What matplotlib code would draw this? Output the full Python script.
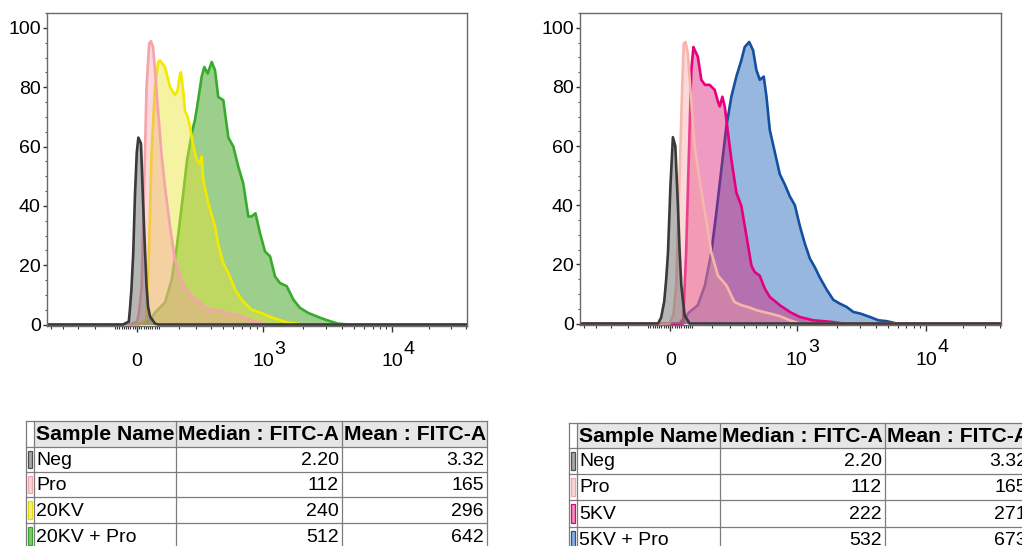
import numpy as np
import matplotlib
matplotlib.use('Agg')
import matplotlib.pyplot as plt
import matplotlib.ticker as ticker
from matplotlib.patches import Rectangle

plt.rcParams['font.family'] = 'Liberation Sans'

# ---- histogram data: FITC-A intensity vs % of max ----
neg_l_x = [-63, -37, -32, -25, -17, -9, -1, 6, 18, 28, 36, 43, 50, 59, 82, 96]
neg_l_y = [0, 1, 5, 12, 24, 44, 58, 63, 61, 40, 25, 13, 6, 2.7, 0.3, 0]

pro_l_x = [-32, 0, 9, 21, 36, 43, 55, 63, 73, 82, 97, 112, 129, 154, 179, 217, 250, 292,
           324, 358, 394, 474, 566, 674, 800, 917, 1088]
pro_l_y = [0, 1, 4, 12.8, 57.8, 80, 94.7, 95.5, 93.5, 85.7, 71.4, 57.8, 46.4, 33, 21.8, 14.1,
           11, 8.5, 7.5, 5.5, 5, 4.6, 3.6, 3, 1.6, 0.7, 0]

kv20_x = [14, 42, 54, 66, 82, 97, 105, 129, 154, 179, 193, 206, 211, 224, 233, 248, 262, 282,
          304, 324, 335, 346, 381, 433, 459, 503, 550, 618, 693, 820, 973, 1093, 1299, 1545, 2000]
kv20_y = [0, 1.7, 24, 58, 80, 88.5, 89, 86.8, 80, 77.3, 79, 84.6, 85, 78, 72, 70, 66.7, 60,
          55.5, 54.3, 56.6, 48.7, 41, 33, 27, 20.5, 17.4, 11.8, 8.4, 5, 3.9, 2.8, 1.7, 0.6, 0]

kv20p_x = [4, 59, 82, 129, 162, 188, 217, 245, 276, 292, 309, 335, 353, 377, 407, 433, 459,
           503, 550, 600, 654, 712, 777, 821, 878, 949, 1034, 1127, 1227, 1337, 1503, 1686,
           1894, 2190, 2620, 3130, 3720, 4520]
kv20p_y = [0, 1.5, 4, 7.4, 15, 26, 41, 55.5, 65.5, 69, 74.6, 83.5, 86.8, 84.6, 88.5, 85.7,
           76.7, 75.6, 63, 60, 53.2, 47.6, 36.4, 36.4, 37.5, 30.8, 24.6, 23, 16.2, 14, 12.9,
           8.4, 5.6, 3.9, 2.5, 1.3, 0.3, 0]

neg_r_x = [-55, -41, -27, -18, -10, 1, 12, 23, 34, 42, 50, 65, 88]
neg_r_y = [0, 2, 7.4, 15, 24, 46.5, 63, 60, 41, 25, 12.9, 2.8, 0]

pro_r_x = [-3, 14, 27, 41, 54, 61, 69, 80, 93, 112, 140, 168, 195, 231, 280, 331, 379, 417,
           457, 500, 632, 751, 891, 1057]
pro_r_y = [0, 3, 12.9, 46.5, 80, 94.7, 95.2, 91.3, 78, 60, 46.5, 35.3, 24, 16.2, 12.9, 7.3,
           6.2, 5.7, 5.2, 4.5, 3.4, 2.5, 1.1, 0]

kv5_x = [58, 72, 85, 96, 106, 116, 127, 144, 162, 186, 213, 231, 241, 256, 270, 290, 311, 344,
         379, 417, 457, 485, 530, 580, 632, 751, 891, 1057, 1330, 1776, 2246]
kv5_y = [0, 24, 57.7, 85.7, 93.5, 91.9, 90.2, 82.4, 80.7, 80.7, 79, 75, 73.4, 76.7, 73.4, 64.4,
         55.5, 44.3, 39.8, 29.7, 19.6, 17.4, 16.2, 11.8, 9, 6.2, 3.9, 2.2, 1.1, 0.6, 0]

kv5p_x = [42, 88, 127, 162, 195, 222, 250, 280, 311, 344, 379, 404, 439, 471, 500, 531, 569,
          597, 632, 709, 751, 818, 891, 971, 1057, 1152, 1255, 1368, 1492, 1676, 1884, 2117,
          2383, 2682, 3019, 3613, 4200, 4870, 5860]
kv5p_y = [0, 3.9, 6.2, 12.9, 24, 37.5, 52, 66.7, 76.7, 83.5, 89, 93.5, 95.2, 92.4, 85.7, 82.4,
          83.5, 76.7, 65.5, 55.5, 50.5, 47, 43, 40, 33, 27, 22, 19, 15.5, 11.5, 8, 6.7, 5.6,
          3.9, 3.4, 2.2, 1.1, 0.8, 0]

# ---- table data ----
left_names = ['Neg', 'Pro', '20KV', '20KV + Pro']
left_median = ['2.20', '112', '240', '512']
left_mean = ['3.32', '165', '296', '642']
right_names = ['Neg', 'Pro', '5KV', '5KV + Pro']
right_median = ['2.20', '112', '222', '532']
right_mean = ['3.32', '165', '271', '673']
headers = ['Sample Name', 'Median : FITC-A', 'Mean : FITC-A']

# ---- logicle-like display transform ----
K, P = 79.5, 2.0


def logicle_inv(z):
    z = np.asarray(z, dtype=float)
    a = np.abs(z)
    return np.sign(z) * K * (10 ** a - P ** 2 * 10 ** (-a / P) + P ** 2 - 1)


Z_GRID = np.linspace(-4, 4, 16001)
S_GRID = logicle_inv(Z_GRID)


def logicle(x):
    return np.interp(np.asarray(x, dtype=float), S_GRID, Z_GRID)


XMIN, XMAX = -537, 40500


def draw_hist(ax, x, y, line, fill, alpha, z):
    xs = np.concatenate([[XMIN], x, [XMAX]])
    ys = np.concatenate([[0], y, [0]])
    ax.fill_between(xs, 0, ys, color=fill, alpha=alpha, lw=0, zorder=z)
    ax.plot(xs, ys, color=line, lw=1.9, zorder=z + 0.5, solid_joinstyle='round')


def style_axes(ax):
    ax.set_xscale('function', functions=(logicle, logicle_inv))
    ax.set_xlim(XMIN, XMAX)
    ax.set_ylim(-0.5, 105)
    ax.set_xticks([0, 1000, 10000], ['0', '10', '10'])
    minors = ([-v for v in range(100, 501, 100)] + [-v for v in range(10, 91, 10)] +
              list(range(10, 91, 10)) + list(range(100, 901, 100)) +
              list(range(2000, 9001, 1000)) + list(range(20000, 40001, 10000)))
    ax.xaxis.set_minor_locator(ticker.FixedLocator(minors))
    ax.xaxis.set_minor_formatter(ticker.NullFormatter())
    ax.set_yticks([0, 20, 40, 60, 80, 100])
    ax.yaxis.set_minor_locator(ticker.MultipleLocator(5))
    ax.tick_params(axis='x', which='major', direction='out', length=4, width=1,
                   color='#333333', labelsize=14, pad=15.5)
    ax.tick_params(axis='x', which='minor', direction='out', length=2.5, width=0.8,
                   color='#333333')
    ax.tick_params(axis='y', which='major', direction='out', length=3, width=1,
                   color='#333333', labelsize=14, pad=1.5)
    ax.tick_params(axis='y', which='minor', direction='out', length=1.5, width=0.8,
                   color='#555555')
    # exponents of the decade labels
    for val, exp in [(1000, '3'), (10000, '4')]:
        ax.annotate(exp, xy=(val, 0), xycoords=('data', 'axes fraction'),
                    xytext=(17, -23), textcoords='offset pixels',
                    ha='center', va='center', fontsize=14, annotation_clip=False)
    for sp in ax.spines.values():
        sp.set_color('#6a6a6a')
        sp.set_linewidth(1.0)
        sp.set_zorder(20)


fig = plt.figure(figsize=(10.22, 5.46), dpi=100)

# table layer in pixel coordinates
tab = fig.add_axes([0, 0, 1, 1])
tab.set_xlim(0, 1022)
tab.set_ylim(546, 0)
tab.axis('off')


def draw_table(xs, ys, names, med, mean, sw_fill, sw_edge):
    gc = '#7c7c7c'
    tab.add_patch(Rectangle((xs[1], ys[0]), xs[4] - xs[1], ys[1] - ys[0],
                            fc='#e6e6e6', ec='none'))
    for yy in ys:
        tab.plot([xs[0], xs[4]], [yy, yy], color=gc, lw=0.9)
    for xx in xs:
        tab.plot([xx, xx], [ys[0], ys[-1]], color=gc, lw=0.9)
    hy = (ys[0] + ys[1]) / 2 + 1
    for j in range(3):
        tab.text(xs[j + 1] + 2, hy, headers[j], fontsize=15.2, fontweight='bold',
                 va='center', ha='left')
    for i in range(4):
        cy = (ys[i + 1] + ys[i + 2]) / 2 + 1
        tab.text(xs[1] + 2, cy, names[i], fontsize=14, va='center', ha='left')
        tab.text(xs[3] - 3, cy, med[i], fontsize=14, va='center', ha='right')
        tab.text(xs[4] - 3, cy, mean[i], fontsize=14, va='center', ha='right')
        tab.add_patch(Rectangle((xs[0] + 2, ys[i + 1] + 4), 4, ys[i + 2] - ys[i + 1] - 8,
                                fc=sw_fill[i], ec=sw_edge[i], lw=0.9))


draw_table([26, 34, 176, 342, 487], [421, 447, 472, 497, 523, 549],
           left_names, left_median, left_mean,
           ['#a8a8a8', '#fbd6d8', '#f6f07a', '#84c878'],
           ['#505050', '#f0a8ae', '#e0d820', '#3aa02e'])
draw_table([569, 577, 720, 885, 1030], [423, 448, 474, 500, 527, 552],
           right_names, right_median, right_mean,
           ['#a8a8a8', '#fbd6d8', '#f08cbc', '#8ab0e0'],
           ['#505050', '#f0a8ae', '#e0007a', '#1a56a8'])

# ---- left histogram ----
axl = fig.add_axes([47 / 1022, (546 - 326) / 546, 420 / 1022, 313 / 546])
style_axes(axl)
draw_hist(axl, kv20p_x, kv20p_y, '#38ab2e', '#3ba119', 0.5, 2)
draw_hist(axl, kv20_x, kv20_y, '#f2e900', '#ebe531', 0.45, 4)
draw_hist(axl, pro_l_x, pro_l_y, '#f4a4aa', '#f59ea3', 0.4, 6)
draw_hist(axl, neg_l_x, neg_l_y, '#3a3a3a', '#6e6e6e', 0.5, 8)

# ---- right histogram ----
axr = fig.add_axes([580 / 1022, (546 - 325) / 546, 421 / 1022, 312 / 546])
style_axes(axr)
draw_hist(axr, kv5p_x, kv5p_y, '#1350a0', '#3371c1', 0.5, 2)
draw_hist(axr, kv5_x, kv5_y, '#e6007e', '#db1572', 0.43, 4)
draw_hist(axr, pro_r_x, pro_r_y, '#f7b6aa', '#f59ea3', 0.4, 6)
draw_hist(axr, neg_r_x, neg_r_y, '#3a3a3a', '#6e6e6e', 0.5, 8)

fig.savefig('out.png', dpi=100)
